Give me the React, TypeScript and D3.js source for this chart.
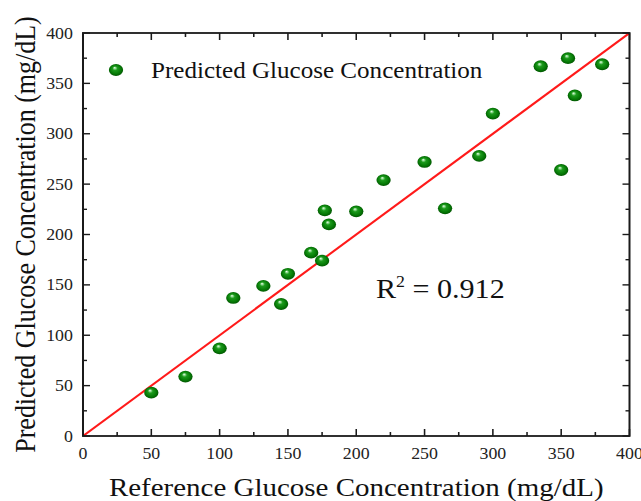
import React from "react";
import * as d3 from "d3";

const referenceValues = [50, 75, 100, 110, 132, 145, 150, 167, 175, 177, 180, 200, 220, 250, 265, 290, 300, 335, 350, 355, 360, 380];
const predictedValues = [43, 59, 87, 137, 149, 131, 161, 182, 174, 224, 210, 223, 254, 272, 226, 278, 320, 367, 264, 375, 338, 369];
const xTicks = [0, 50, 100, 150, 200, 250, 300, 350, 400];
const yTicks = [0, 50, 100, 150, 200, 250, 300, 350, 400];
const minorTicks = [25, 75, 125, 175, 225, 275, 325, 375];
const legendLabel = "Predicted Glucose Concentration";
const xTitle = "Reference Glucose Concentration (mg/dL)";
const yTitle = "Predicted Glucose Concentration (mg/dL)";
const r2Value = "0.912";

const SX = 1.115;
const W = 641 / SX;
const H = 501;
const FONT = "'Liberation Serif', 'Times New Roman', serif";

export default function App() {
  const x = d3.scaleLinear().domain([0, 400]).range([83 / SX, 629.5 / SX]);
  const y = d3.scaleLinear().domain([0, 400]).range([436, 33]);
  const [x0, x1] = x.range();
  const [y0, y1] = y.range();
  const axisColor = "#1a1a1a";
  const major = 7;
  const minor = 4;

  const sphere = (cx: number, cy: number, key: string | number) => (
    <ellipse key={key} cx={cx} cy={cy} rx={6.4} ry={5.9} fill="url(#sphereGrad)" />
  );

  return (
    <svg
      width={641}
      height={501}
      viewBox={`0 0 ${W} ${H}`}
      preserveAspectRatio="none"
      style={{ position: "absolute", left: 0, top: 0, background: "#fff" }}
    >
      <defs>
        <radialGradient id="sphereGrad" cx="50%" cy="50%" r="55%" fx="40%" fy="30%">
          <stop offset="0%" stopColor="#f4fff4" />
          <stop offset="14%" stopColor="#8fd88f" />
          <stop offset="32%" stopColor="#1c9a1c" />
          <stop offset="70%" stopColor="#067a06" />
          <stop offset="100%" stopColor="#004d00" />
        </radialGradient>
        <clipPath id="plotClip">
          <rect x={x0} y={y1} width={x1 - x0} height={y0 - y1} />
        </clipPath>
      </defs>

      {/* ticks */}
      {xTicks.map((t) => (
        <g key={"xt" + t}>
          <line x1={x(t)} x2={x(t)} y1={y0} y2={y0 - major} stroke={axisColor} strokeWidth={1.4} />
          <line x1={x(t)} x2={x(t)} y1={y1} y2={y1 + major} stroke={axisColor} strokeWidth={1.4} />
          <text x={x(t)} y={459} textAnchor="middle" fontFamily={FONT} fontSize={16} fill="#222">
            {t}
          </text>
        </g>
      ))}
      {minorTicks.map((t) => (
        <g key={"mt" + t}>
          <line x1={x(t)} x2={x(t)} y1={y0} y2={y0 - minor} stroke={axisColor} strokeWidth={1.4} />
          <line x1={x(t)} x2={x(t)} y1={y1} y2={y1 + minor} stroke={axisColor} strokeWidth={1.4} />
          <line x1={x0} x2={x0 + minor / SX} y1={y(t)} y2={y(t)} stroke={axisColor} strokeWidth={1.4} />
          <line x1={x1} x2={x1 - minor / SX} y1={y(t)} y2={y(t)} stroke={axisColor} strokeWidth={1.4} />
        </g>
      ))}
      {yTicks.map((t) => (
        <g key={"yt" + t}>
          <line x1={x0} x2={x0 + major / SX} y1={y(t)} y2={y(t)} stroke={axisColor} strokeWidth={1.4} />
          <line x1={x1} x2={x1 - major / SX} y1={y(t)} y2={y(t)} stroke={axisColor} strokeWidth={1.4} />
          <text x={x0 - 9} y={y(t)} dy="0.35em" textAnchor="end" fontFamily={FONT} fontSize={16} fill="#222">
            {t}
          </text>
        </g>
      ))}

      {/* identity line */}
      <line
        x1={x(0)}
        y1={y(0)}
        x2={x(400)}
        y2={y(400)}
        stroke="#ff1a1a"
        strokeWidth={2}
        clipPath="url(#plotClip)"
      />

      {/* points */}
      {referenceValues.map((v, i) => sphere(x(v), y(predictedValues[i]), i))}

      {/* frame */}
      <rect
        x={x0}
        y={y1}
        width={x1 - x0}
        height={y0 - y1}
        fill="none"
        stroke={axisColor}
        strokeWidth={1.8}
      />

      {/* legend */}
      {sphere(116 / SX, 70, "legend")}
      <text x={151 / SX} y={78} fontFamily={FONT} fontSize={22.5} fill="#111">
        {legendLabel}
      </text>

      {/* R2 */}
      <text x={376 / SX} y={298} fontFamily={FONT} fontSize={27} fill="#111">
        R
        <tspan dy={-11} fontSize={16}>2</tspan>
        <tspan dy={11}> = {r2Value}</tspan>
      </text>

      {/* axis titles */}
      <text
        x={(x0 + x1) / 2}
        y={496}
        textAnchor="middle"
        fontFamily={FONT}
        fontSize={26}
        fill="#111"
      >
        {xTitle}
      </text>
      <text
        transform={`translate(${35 / SX}, 234.5) rotate(-90)`}
        textAnchor="middle"
        fontFamily={FONT}
        fontSize={26}
        fill="#111"
      >
        {yTitle}
      </text>
    </svg>
  );
}
